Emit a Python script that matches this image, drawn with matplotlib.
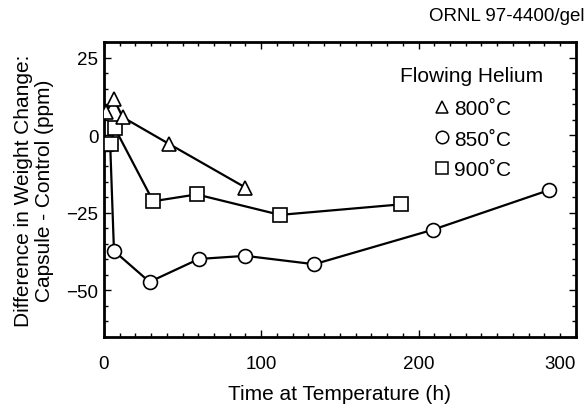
import numpy as np
import matplotlib.pyplot as plt
from matplotlib.lines import Line2D
from matplotlib.ticker import MultipleLocator

plt.rcParams['font.family'] = ['Liberation Sans', 'DejaVu Sans']

# 800 C
t_800 = [1.3, 6.4, 11.9, 41.3, 90]
d_800 = [7.4, 11.6, 5.8, -2.8, -16.9]
# 850 C
t_850 = [4.0, 6.4, 29, 60.4, 90, 133.7, 209, 283]
d_850 = [-3.0, -37.3, -47.3, -39.9, -38.9, -41.6, -30.5, -17.7]
# 900 C
t_900 = [4.2, 7.0, 31.3, 59, 112, 189]
d_900 = [-2.8, 2.2, -21.3, -19.1, -25.7, -22.3]

fig = plt.figure(figsize=(5.87, 4.10), dpi=100)
ax = fig.add_axes([0.177, 0.176, 0.804, 0.719])

estilo = dict(color='black', linewidth=1.6, markerfacecolor='white',
              markeredgecolor='black', markeredgewidth=1.2)
ax.plot(t_850, d_850, marker='o', markersize=10, zorder=2, **estilo)
ax.plot(t_900, d_900, marker='s', markersize=10.5, zorder=3, **estilo)
ax.plot(t_800, d_800, marker='^', markersize=10.5, zorder=4, **estilo)

ax.set_xlim(0, 300)
ax.set_ylim(-65, 30)
ax.xaxis.set_major_locator(MultipleLocator(100))
ax.xaxis.set_minor_locator(MultipleLocator(10))
ax.yaxis.set_major_locator(MultipleLocator(25))
ax.yaxis.set_minor_locator(MultipleLocator(5))
ax.tick_params(which='both', direction='in', top=True, right=True, labelsize=13.5, width=1)
ax.tick_params(which='major', length=5)
ax.tick_params(which='minor', length=3)
ax.tick_params(axis='x', pad=13)
ax.tick_params(axis='y', pad=4)
for s in ax.spines.values():
    s.set_linewidth(2)

# el ultimo rotulo (300) queda pegado al borde
ax.set_xticks([0, 100, 200, 300])
ax.get_xticklabels()[-1].set_horizontalalignment('right')

ax.set_xlabel('Time at Temperature (h)', fontsize=15, labelpad=9)
ax.set_ylabel('Difference in Weight Change:\nCapsule - Control (ppm)', fontsize=15,
              labelpad=9, linespacing=1.1)

ax.text(0.778, 0.885, 'Flowing Helium', transform=ax.transAxes, fontsize=15,
        ha='center', va='center')
handles = [
    Line2D([], [], linestyle='none', marker='^', markersize=9, markerfacecolor='white',
           markeredgecolor='black', markeredgewidth=1.1),
    Line2D([], [], linestyle='none', marker='o', markersize=9, markerfacecolor='white',
           markeredgecolor='black', markeredgewidth=1.1),
    Line2D([], [], linestyle='none', marker='s', markersize=9, markerfacecolor='white',
           markeredgecolor='black', markeredgewidth=1.1),
]
etiquetas = ['800˚C', '850˚C', '900˚C']
ax.legend(handles, etiquetas, loc='upper left', bbox_to_anchor=(0.682, 0.842),
          frameon=False, fontsize=15, handlelength=0.6, handletextpad=0.25,
          labelspacing=0.55, borderpad=0)

fig.text(0.995, 0.96, 'ORNL 97-4400/gel', ha='right', va='center', fontsize=13.5)

fig.savefig('out.png', dpi=100)
